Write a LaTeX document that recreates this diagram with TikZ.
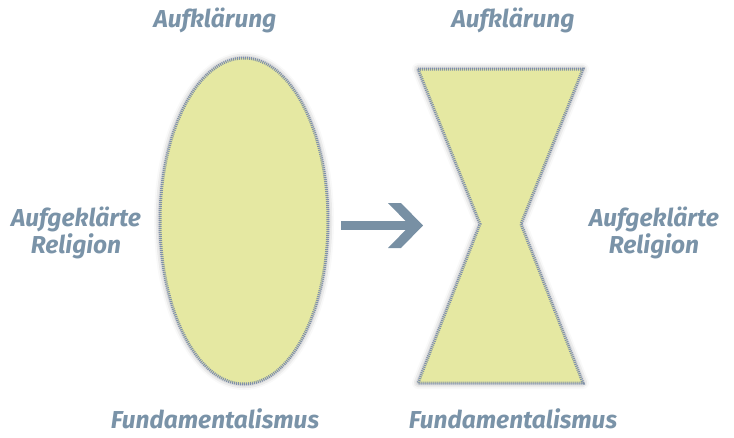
\documentclass[tikz,border=0pt]{standalone}
\usepackage{fontspec}
\setmainfont{Fira Sans}
\usetikzlibrary{shadows.blur}
\definecolor{txt}{HTML}{7A93A8}
\definecolor{fillc}{HTML}{E5E8A2}
\definecolor{edge}{HTML}{7F90A8}
\definecolor{arr}{HTML}{7890A4}
\tikzset{
  lbl/.style={text=txt, font=\fontsize{24.5}{27}\selectfont\bfseries\itshape, align=center, inner sep=0pt},
  fshape/.style={fill=fillc, draw=edge, line width=3pt, dash pattern=on 1pt off 1pt,
    blur shadow={shadow xshift=0pt, shadow yshift=0pt, shadow blur radius=6pt, shadow opacity=40}},
}
\begin{document}
\begin{tikzpicture}[x=1pt,y=-1pt]
\useasboundingbox (0,0) rectangle (734,437);
% ellipse
\path[fshape] (244,221) ellipse [x radius=84, y radius=163];
% hourglass
\coordinate (tl) at (418,69);
\coordinate (tr) at (583,69);
\coordinate (wr) at (521,224);
\coordinate (br) at (583,383);
\coordinate (bl) at (418,383);
\coordinate (wl) at (480,224);
\path[fshape] (tl) -- (tr) -- (wr) -- (br) -- (bl) -- (wl) -- cycle;
% arrow
\fill[arr] (341,221) rectangle (412,230);
\fill[arr] (388,203) -- (401,203) -- (423,225.5) -- (401,248) -- (388,248) -- (410,225.5) -- cycle;
% labels
\node[lbl] (a1) at (215,20) {Aufklärung};
\node[lbl] (a2) at (513,20) {Aufklärung};
\node[lbl] (r1) at (76,233) {Aufgeklärte\\Religion};
\node[lbl] (r2) at (654,233) {Aufgeklärte\\Religion};
\node[lbl, anchor=base] (f1) at (215,428) {Fundamentalismus};
\node[lbl, anchor=base] (f2) at (513,428) {Fundamentalismus};
\end{tikzpicture}
\end{document}
